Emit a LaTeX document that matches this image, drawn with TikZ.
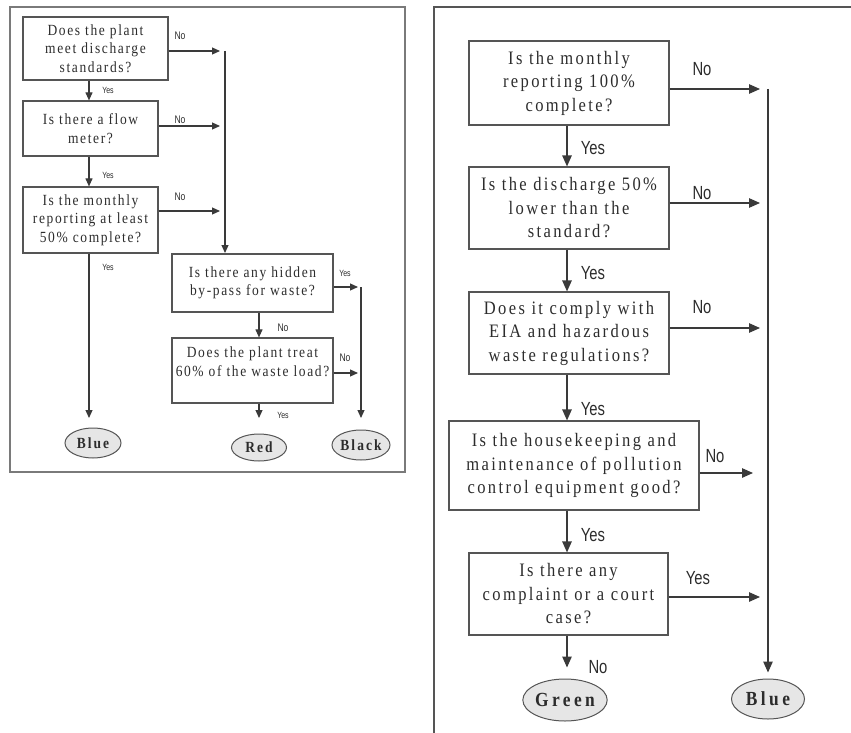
\documentclass[tikz,border=0pt]{standalone}
\usepackage{fontspec}
\setmainfont{Liberation Serif}
\newfontfamily\boxfont[FakeStretch=0.87]{Liberation Serif}
\newfontfamily\labfont[FakeStretch=0.78]{Liberation Sans}
\usetikzlibrary{arrows.meta,shapes.geometric}
\definecolor{ln}{HTML}{3A3A3A}
\definecolor{bx}{HTML}{555555}
\definecolor{tx}{HTML}{2C2C2C}
\definecolor{ovfill}{HTML}{E6E6E6}
\definecolor{frm}{HTML}{7A7A7A}
\tikzset{
  box/.style={draw=bx, line width=1.2pt, rectangle, inner sep=0pt, align=center, text=tx},
  lbox/.style={box, font=\boxfont\fontsize{15.5}{18.5}\selectfont\addfontfeature{LetterSpace=10.5}},
  rbox/.style={box, font=\boxfont\fontsize{19}{23.5}\selectfont\addfontfeature{LetterSpace=12.5}},
  oval/.style={ellipse, draw=bx, fill=ovfill, line width=1pt, inner sep=0pt, text=tx},
  loval/.style={oval, font=\boxfont\fontsize{15.5}{16}\selectfont\bfseries\addfontfeature{LetterSpace=13}},
  roval/.style={oval, font=\boxfont\fontsize{20}{20}\selectfont\bfseries\addfontfeature{LetterSpace=17}},
  larr/.style={draw=ln, line width=1.1pt, -{Triangle[length=8pt,width=7pt]}},
  rarr/.style={draw=ln, line width=1.2pt, -{Triangle[length=11pt,width=9.5pt]}},
  lno/.style={font=\labfont\fontsize{11}{11}\selectfont, text=tx, inner sep=0pt},
  lyes/.style={font=\labfont\fontsize{9}{9}\selectfont, text=tx, inner sep=0pt},
  rlab/.style={font=\labfont\fontsize{19}{19}\selectfont, text=tx, inner sep=0pt},
}
\begin{document}
\begin{tikzpicture}[x=1pt,y=-1pt]
\useasboundingbox (0,0) rectangle (851,733);
% frames
\draw[draw=frm, line width=1.3pt] (10,7) rectangle (405,472);
\draw[draw=bx, line width=1.3pt] (434,733) -- (434,7) -- (851,7);

% ---------- left panel ----------
\node[lbox, minimum width=145, minimum height=63] (L1) at (95.5,48.5) {Does the plant\\meet discharge\\standards?};
\node[lbox, minimum width=135, minimum height=55] (L2) at (90.5,128.5) {Is there a flow\\meter?};
\node[lbox, minimum width=135, minimum height=66] (L3) at (90.5,220) {Is the monthly\\reporting at least\\50\% complete?};
\node[lbox, minimum width=161, minimum height=58] (L4) at (252.5,283) {Is there any hidden\\by-pass for waste?};
\node[box, minimum width=161, minimum height=65] (L5) at (252.5,370.5) {};
\node[lbox, draw=none] (L5t) at (252.5,361.5) {Does the plant treat\\60\% of the waste load?};
\node[loval, minimum width=56, minimum height=30] (LBlue) at (93,443) {Blue};
\node[loval, minimum width=55, minimum height=27] (LRed) at (259,447.5) {Red};
\node[loval, minimum width=56, minimum height=30] (LBlack) at (361,445) {Black};

\coordinate (lx) at (89,0);
\coordinate (lx2) at (259,0);
\coordinate (lvt) at (225,51);
\coordinate (lvb) at (225,253);
\coordinate (ln1) at (220,51);
\coordinate (ln2) at (220,126);
\coordinate (ln3) at (220,211);
\coordinate (lbt) at (361,287);
\coordinate (lbb) at (361,418);
\coordinate (lb1) at (358,287);
\coordinate (lb2) at (358,373);
\coordinate (lend) at (0,418);

\draw[larr] (L1.east |- ln1) -- (ln1);
\draw[larr] (L2.east |- ln2) -- (ln2);
\draw[larr] (L3.east |- ln3) -- (ln3);
\draw[larr] (lvt) -- (lvb);
\draw[larr] (L1.south -| lx) -- (L2.north -| lx);
\draw[larr] (L2.south -| lx) -- (L3.north -| lx);
\draw[larr] (L3.south -| lx) -- (lend -| lx);
\draw[larr] (L4.east |- lb1) -- (lb1);
\draw[larr] (L5.east |- lb2) -- (lb2);
\draw[larr] (lbt) -- (lbb);
\draw[larr] (L4.south -| lx2) -- (L5.north -| lx2);
\draw[larr] (L5.south -| lx2) -- (lend -| lx2);

\node[lno] (ln1l) at (180,36) {No};
\node[lno] (ln2l) at (180,120) {No};
\node[lno] (ln3l) at (180,197) {No};
\node[lyes] (ly1l) at (108,90) {Yes};
\node[lyes] (ly2l) at (108,175) {Yes};
\node[lyes] (ly3l) at (108,267) {Yes};
\node[lyes] (ly4l) at (345,273) {Yes};
\node[lno] (ln4l) at (283,328) {No};
\node[lno] (ln5l) at (345,358) {No};
\node[lyes] (ly5l) at (283,415) {Yes};

% ---------- right panel ----------
\node[rbox, minimum width=200, minimum height=84] (R1) at (569,83) {Is the monthly\\reporting 100\%\\complete?};
\node[rbox, minimum width=200, minimum height=82] (R2) at (569,208) {Is the discharge 50\%\\lower than the\\standard?};
\node[rbox, minimum width=200, minimum height=82] (R3) at (569,333) {Does it comply with\\EIA and hazardous\\waste regulations?};
\node[rbox, minimum width=250, minimum height=89] (R4) at (574,465.5) {Is the housekeeping and\\maintenance of pollution\\control equipment good?};
\node[rbox, minimum width=199, minimum height=82] (R5) at (568.5,594) {Is there any\\complaint or a court\\case?};
\node[roval, minimum width=77, minimum height=42] (RGreen) at (565,700) {Green};
\node[roval, minimum width=73, minimum height=40] (RBlue) at (768,699) {Blue};

\coordinate (rx) at (567,0);
\coordinate (rvt) at (768,89);
\coordinate (rn1) at (760,89);
\coordinate (rn2) at (760,203);
\coordinate (rn3) at (760,328);
\coordinate (rn4) at (753,473);
\coordinate (rn5) at (760,597);

\draw[rarr] (R1.east |- rn1) -- (rn1);
\draw[rarr] (R2.east |- rn2) -- (rn2);
\draw[rarr] (R3.east |- rn3) -- (rn3);
\draw[rarr] (R4.east |- rn4) -- (rn4);
\draw[rarr] (R5.east |- rn5) -- (rn5);
\draw[rarr, shorten >=6pt] (rvt) -- (RBlue.north);
\draw[rarr] (R1.south -| rx) -- (R2.north -| rx);
\draw[rarr] (R2.south -| rx) -- (R3.north -| rx);
\draw[rarr] (R3.south -| rx) -- (R4.north -| rx);
\draw[rarr] (R4.south -| rx) -- (R5.north -| rx);
\draw[rarr, shorten >=11pt] (R5.south -| rx) -- (RGreen.north -| rx);

\node[rlab] (rl1) at (702,69) {No};
\node[rlab] (rl2) at (702,193) {No};
\node[rlab] (rl3) at (702,307) {No};
\node[rlab] (rl4) at (715,456) {No};
\node[rlab] (rl5) at (698,578) {Yes};
\node[rlab] (ry1) at (593,148) {Yes};
\node[rlab] (ry2) at (593,273) {Yes};
\node[rlab] (ry3) at (593,409) {Yes};
\node[rlab] (ry4) at (593,535) {Yes};
\node[rlab] (ry5) at (598,667) {No};
\end{tikzpicture}
\end{document}
